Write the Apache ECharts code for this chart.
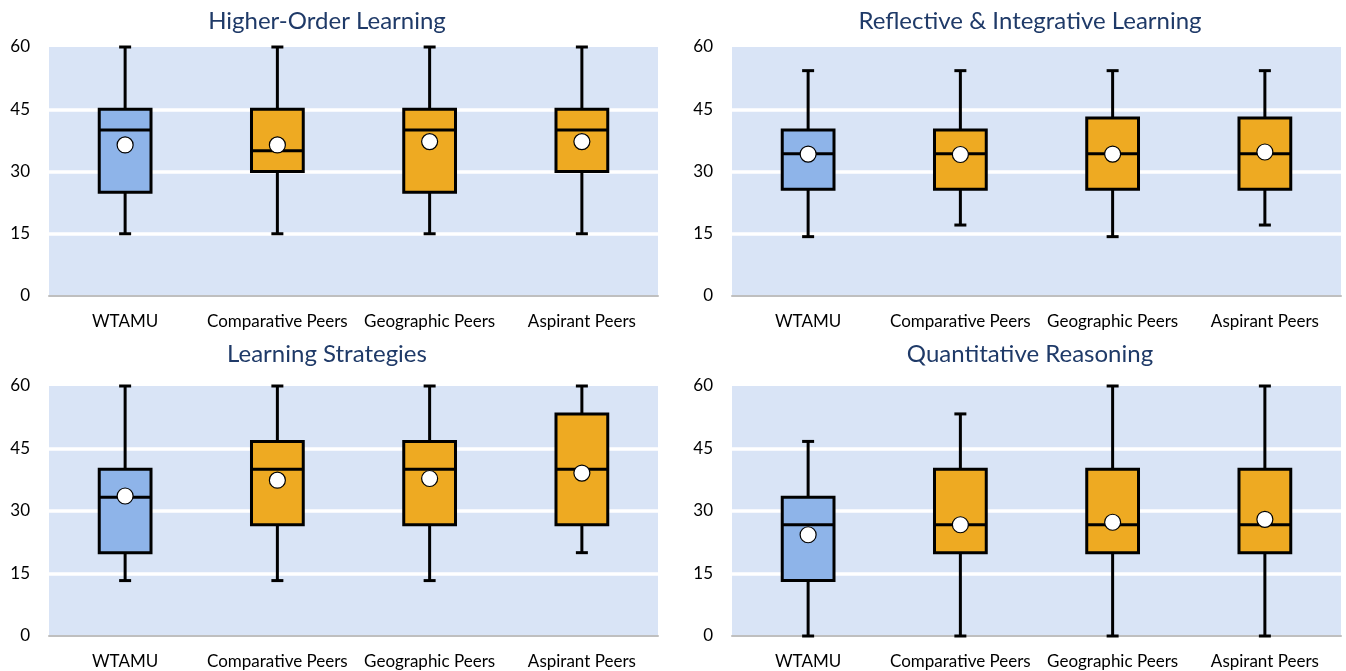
<!DOCTYPE html>
<html>
<head>
<meta charset="utf-8">
<script src="https://cdn.jsdelivr.net/npm/echarts@6/dist/echarts.min.js"></script>
<style>
html,body{margin:0;padding:0;background:#fff;}
#c{width:1346px;height:671px;}
</style>
</head>
<body>
<div id="c"></div>
<script>
// ---- data ----
const categories = ['WTAMU', 'Comparative Peers', 'Geographic Peers', 'Aspirant Peers'];
const panelTitles = ['Higher-Order Learning', 'Reflective & Integrative Learning', 'Learning Strategies', 'Quantitative Reasoning'];
const yTicks = [0, 15, 30, 45, 60];
// each row: [min, q1, median, q3, max, mean]
const higherOrder = [
  [15, 25, 40, 45, 60, 36.4],
  [15, 30, 35, 45, 60, 36.4],
  [15, 25, 40, 45, 60, 37.2],
  [15, 30, 40, 45, 60, 37.2]
];
const reflective = [
  [14.3, 25.7, 34.3, 40.0, 54.3, 34.2],
  [17.1, 25.7, 34.3, 40.0, 54.3, 34.1],
  [14.3, 25.7, 34.3, 42.9, 54.3, 34.2],
  [17.1, 25.7, 34.3, 42.9, 54.3, 34.7]
];
const learningStrategies = [
  [13.3, 20.0, 33.3, 40.0, 60, 33.6],
  [13.3, 26.7, 40.0, 46.7, 60, 37.4],
  [13.3, 26.7, 40.0, 46.7, 60, 37.8],
  [20.0, 26.7, 40.0, 53.3, 60, 39.1]
];
const quantitative = [
  [0, 13.3, 26.7, 33.3, 46.7, 24.3],
  [0, 20.0, 26.7, 40.0, 53.3, 26.7],
  [0, 20.0, 26.7, 40.0, 60, 27.3],
  [0, 20.0, 26.7, 40.0, 60, 28.0]
];
const panels = [higherOrder, reflective, learningStrategies, quantitative];
const boxColors = ['#8EB4E9', '#EEAA22', '#EEAA22', '#EEAA22'];

// ---- layout ----
const grids = [
  {left: 49, top: 47, width: 609, height: 249},
  {left: 732, top: 47, width: 609, height: 249},
  {left: 49, top: 386, width: 609, height: 250},
  {left: 732, top: 386, width: 609, height: 250}
];
const titleTops = [4, 4, 337, 337];
const titleCenters = [322, 1025, 322, 1025];

const chart = echarts.init(document.getElementById('c'), null, {renderer: 'canvas'});

function renderBox(params, api) {
  const idx = api.value(0);
  const vMin = api.value(1), vQ1 = api.value(2), vMed = api.value(3), vQ3 = api.value(4), vMax = api.value(5), vMean = api.value(6);
  const bandW = api.size([1, 0])[0];
  const bw = bandW * 0.34;
  const cx = api.coord([idx, 0])[0];
  const yMin = api.coord([idx, vMin])[1];
  const yQ1 = api.coord([idx, vQ1])[1];
  const yMed = api.coord([idx, vMed])[1];
  const yQ3 = api.coord([idx, vQ3])[1];
  const yMax = api.coord([idx, vMax])[1];
  const yMean = api.coord([idx, vMean])[1];
  const capW = 12;
  const ls = {stroke: '#000', lineWidth: 3};
  const children = [
    {type: 'line', shape: {x1: cx, y1: yMax, x2: cx, y2: yQ3}, style: ls},
    {type: 'line', shape: {x1: cx, y1: yQ1, x2: cx, y2: yMin}, style: ls},
    {type: 'line', shape: {x1: cx - capW / 2, y1: yMax, x2: cx + capW / 2, y2: yMax}, style: ls},
    {type: 'line', shape: {x1: cx - capW / 2, y1: yMin, x2: cx + capW / 2, y2: yMin}, style: ls},
    {type: 'rect', shape: {x: cx - bw / 2, y: yQ3, width: bw, height: yQ1 - yQ3},
      style: {fill: boxColors[idx], stroke: '#000', lineWidth: 3}},
    {type: 'line', shape: {x1: cx - bw / 2, y1: yMed, x2: cx + bw / 2, y2: yMed}, style: ls},
    {type: 'circle', shape: {cx: cx, cy: yMean, r: 8}, style: {fill: '#fff', stroke: '#000', lineWidth: 1.2}}
  ];
  return {type: 'group', children: children};
}

const option = {
  animation: false,
  title: panelTitles.map((t, i) => ({
    text: t,
    left: titleCenters[i],
    textAlign: 'center',
    top: titleTops[i],
    textStyle: {fontFamily: 'Lato', fontSize: 24, fontWeight: 'normal', color: '#1F3A68'}
  })),
  grid: grids.map(g => Object.assign({show: true, backgroundColor: '#D9E4F6', borderWidth: 0}, g)),
  xAxis: grids.map((g, i) => ({
    type: 'category',
    gridIndex: i,
    data: categories,
    boundaryGap: true,
    axisTick: {show: false},
    axisLine: {show: true, lineStyle: {color: '#BFBFBF', width: 2}},
    axisLabel: {color: '#000', fontFamily: 'Lato', fontSize: 17, margin: 17, interval: 0},
    splitLine: {show: false}
  })),
  yAxis: grids.map((g, i) => ({
    type: 'value',
    gridIndex: i,
    min: yTicks[0],
    max: yTicks[yTicks.length - 1],
    interval: 15,
    axisLine: {show: false},
    axisTick: {show: false},
    axisLabel: {color: '#000', fontFamily: 'Lato', fontSize: 17, margin: 19},
    splitLine: {show: true, lineStyle: {color: ['rgba(0,0,0,0)', '#fff', '#fff', '#fff', 'rgba(0,0,0,0)'], width: 3.5}}
  })),
  series: panels.map((p, i) => ({
    type: 'custom',
    xAxisIndex: i,
    yAxisIndex: i,
    renderItem: renderBox,
    encode: {x: 0, y: [1, 2, 3, 4, 5, 6]},
    data: p.map((r, k) => [k].concat(r))
  }))
};
chart.setOption(option);
</script>
</body>
</html>
